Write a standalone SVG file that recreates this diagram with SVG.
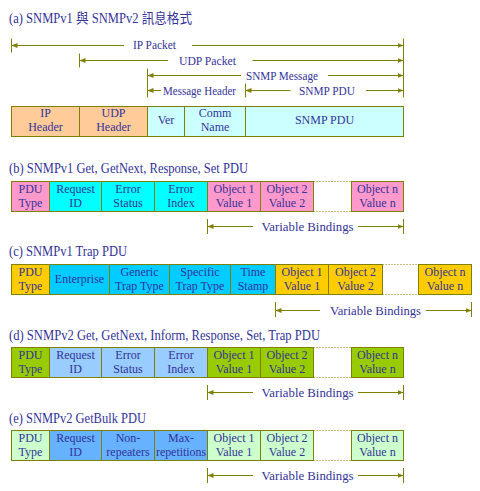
<svg xmlns="http://www.w3.org/2000/svg" width="480" height="491" viewBox="0 0 480 491">
<defs>
<style>
.t{font-family:"Liberation Serif","Noto Sans CJK TC",serif;fill:#333399}
.title{font-size:14px}
.lbl{font-size:12px;text-anchor:middle}
.bx{font-size:12px;text-anchor:middle}
.b{stroke:#808000;stroke-width:1}
.orange{fill:#FFCC99}.lcyan{fill:#CCFFFF}
.pink{fill:#FF99CC}.cyan{fill:#00FFFF}
.gold{fill:#FFCC00}.sky{fill:#00CCFF}
.green{fill:#99CC00}.lblue{fill:#99CCFF}
.lgreen{fill:#CCFFCC}.mblue{fill:#66B2FF}
.ln{stroke:#808000;stroke-width:1;fill:none}
.dot{stroke:#808000;stroke-width:1;stroke-dasharray:1,2;fill:none}
</style>
<marker id="ah" viewBox="0 0 6 6" refX="6" refY="3" markerWidth="6" markerHeight="6" orient="auto-start-reverse" markerUnits="userSpaceOnUse"><path d="M0,0.5 L6,3 L0,5.5 z" fill="#808000"/></marker>
</defs>
<rect width="480" height="491" fill="#ffffff"/>

<!-- titles -->
<text class="t title" x="9" y="22.5" textLength="183" lengthAdjust="spacingAndGlyphs">(a) SNMPv1 與 SNMPv2 訊息格式</text>
<text class="t title" x="9" y="173" textLength="239" lengthAdjust="spacingAndGlyphs">(b) SNMPv1 Get, GetNext, Response, Set PDU</text>
<text class="t title" x="9" y="256" textLength="118" lengthAdjust="spacingAndGlyphs">(c) SNMPv1 Trap PDU</text>
<text class="t title" x="9" y="340" textLength="311" lengthAdjust="spacingAndGlyphs">(d) SNMPv2 Get, GetNext, Inform, Response, Set, Trap PDU</text>
<text class="t title" x="9" y="423" textLength="137" lengthAdjust="spacingAndGlyphs">(e) SNMPv2 GetBulk PDU</text>

<!-- connectors / dimension lines -->
<g id="connectors">
<!-- section a ticks -->
<line class="ln" x1="11.5" y1="38.5" x2="11.5" y2="52.5"/>
<line class="ln" x1="79.5" y1="53.5" x2="79.5" y2="67.5"/>
<line class="ln" x1="147.5" y1="68.5" x2="147.5" y2="97.5"/>
<line class="ln" x1="245.5" y1="83.5" x2="245.5" y2="97.5"/>
<line class="ln" x1="403.5" y1="38.5" x2="403.5" y2="97.5"/>
<!-- IP Packet -->
<line class="ln" x1="11.5" y1="45.5" x2="124" y2="45.5" marker-start="url(#ah)"/>
<line class="ln" x1="192" y1="45.5" x2="403.5" y2="45.5" marker-end="url(#ah)"/>
<!-- UDP Packet -->
<line class="ln" x1="79.5" y1="60.5" x2="168" y2="60.5" marker-start="url(#ah)"/>
<line class="ln" x1="252.5" y1="60.5" x2="403.5" y2="60.5" marker-end="url(#ah)"/>
<!-- SNMP Message -->
<line class="ln" x1="147.5" y1="75.5" x2="241" y2="75.5" marker-start="url(#ah)"/>
<line class="ln" x1="328" y1="75.5" x2="403.5" y2="75.5" marker-end="url(#ah)"/>
<!-- Message Header -->
<line class="ln" x1="147.5" y1="90.5" x2="161" y2="90.5" marker-start="url(#ah)"/>
<!-- SNMP PDU -->
<line class="ln" x1="245.5" y1="90.5" x2="290.5" y2="90.5" marker-start="url(#ah)"/>
<line class="ln" x1="366" y1="90.5" x2="403.5" y2="90.5" marker-end="url(#ah)"/>

<!-- b variable bindings -->
<line class="ln" x1="207.5" y1="219" x2="207.5" y2="234"/>
<line class="ln" x1="403.5" y1="219" x2="403.5" y2="234"/>
<line class="ln" x1="207.5" y1="226.5" x2="253" y2="226.5" marker-start="url(#ah)"/>
<line class="ln" x1="358" y1="226.5" x2="403.5" y2="226.5" marker-end="url(#ah)"/>
<!-- c variable bindings -->
<line class="ln" x1="275.5" y1="302" x2="275.5" y2="317"/>
<line class="ln" x1="471.5" y1="302" x2="471.5" y2="317"/>
<line class="ln" x1="275.5" y1="310.5" x2="320" y2="310.5" marker-start="url(#ah)"/>
<line class="ln" x1="426" y1="310.5" x2="471.5" y2="310.5" marker-end="url(#ah)"/>
<!-- d variable bindings -->
<line class="ln" x1="207.5" y1="385" x2="207.5" y2="400"/>
<line class="ln" x1="403.5" y1="385" x2="403.5" y2="400"/>
<line class="ln" x1="207.5" y1="392.5" x2="253" y2="392.5" marker-start="url(#ah)"/>
<line class="ln" x1="358" y1="392.5" x2="403.5" y2="392.5" marker-end="url(#ah)"/>
<!-- e variable bindings -->
<line class="ln" x1="207.5" y1="468" x2="207.5" y2="483"/>
<line class="ln" x1="403.5" y1="468" x2="403.5" y2="483"/>
<line class="ln" x1="207.5" y1="475.5" x2="253" y2="475.5" marker-start="url(#ah)"/>
<line class="ln" x1="358" y1="475.5" x2="403.5" y2="475.5" marker-end="url(#ah)"/>

<!-- dotted gaps -->
<line class="dot" x1="313.5" y1="181.5" x2="351.5" y2="181.5"/>
<line class="dot" x1="313.5" y1="211.5" x2="351.5" y2="211.5"/>
<line class="dot" x1="382.5" y1="264.5" x2="418.5" y2="264.5"/>
<line class="dot" x1="382.5" y1="294.5" x2="418.5" y2="294.5"/>
<line class="dot" x1="313.5" y1="347.5" x2="351.5" y2="347.5"/>
<line class="dot" x1="313.5" y1="377.5" x2="351.5" y2="377.5"/>
<line class="dot" x1="313.5" y1="430.5" x2="351.5" y2="430.5"/>
<line class="dot" x1="313.5" y1="460.5" x2="351.5" y2="460.5"/>
</g>

<!-- dimension labels -->
<g id="labels">
<text class="t lbl" x="154.5" y="49" textLength="43" lengthAdjust="spacingAndGlyphs">IP Packet</text>
<text class="t lbl" x="207.5" y="64.5" textLength="57" lengthAdjust="spacingAndGlyphs">UDP Packet</text>
<text class="t lbl" x="282" y="79.5" textLength="72" lengthAdjust="spacingAndGlyphs">SNMP Message</text>
<text class="t lbl" x="199.5" y="94.5" textLength="73" lengthAdjust="spacingAndGlyphs">Message Header</text>
<text class="t lbl" x="327" y="94.5" textLength="56" lengthAdjust="spacingAndGlyphs">SNMP PDU</text>
<text class="t lbl" x="307.5" y="230.5" textLength="92" lengthAdjust="spacingAndGlyphs" style="font-size:13px">Variable Bindings</text>
<text class="t lbl" x="375.5" y="314.5" textLength="91" lengthAdjust="spacingAndGlyphs" style="font-size:13px">Variable Bindings</text>
<text class="t lbl" x="307.5" y="396.5" textLength="92" lengthAdjust="spacingAndGlyphs" style="font-size:13px">Variable Bindings</text>
<text class="t lbl" x="307.5" y="479.5" textLength="92" lengthAdjust="spacingAndGlyphs" style="font-size:13px">Variable Bindings</text>
</g>

<!-- section a -->
<g id="a-ip-header"><rect class="b orange" x="11.5" y="106.5" width="68" height="30"/><text class="t bx" x="45.5" y="117">IP</text><text class="t bx" x="45.5" y="131">Header</text></g>
<g id="a-udp-header"><rect class="b orange" x="79.5" y="106.5" width="68" height="30"/><text class="t bx" x="113.5" y="117">UDP</text><text class="t bx" x="113.5" y="131">Header</text></g>
<g id="a-ver"><rect class="b lcyan" x="147.5" y="106.5" width="37" height="30"/><text class="t bx" x="166" y="124">Ver</text></g>
<g id="a-comm-name"><rect class="b lcyan" x="184.5" y="106.5" width="61" height="30"/><text class="t bx" x="215" y="117">Comm</text><text class="t bx" x="215" y="131">Name</text></g>
<g id="a-snmp-pdu"><rect class="b lcyan" x="245.5" y="106.5" width="158" height="30"/><text class="t bx" x="324.5" y="124">SNMP PDU</text></g>

<!-- section b -->
<g id="b-pdu-type"><rect class="b pink" x="11.5" y="181.5" width="38" height="30"/><text class="t bx" x="30.5" y="192.5">PDU</text><text class="t bx" x="30.5" y="206.5">Type</text></g>
<g id="b-request-id"><rect class="b cyan" x="49.5" y="181.5" width="52" height="30"/><text class="t bx" x="75.5" y="192.5">Request</text><text class="t bx" x="75.5" y="206.5">ID</text></g>
<g id="b-error-status"><rect class="b cyan" x="101.5" y="181.5" width="53" height="30"/><text class="t bx" x="128" y="192.5">Error</text><text class="t bx" x="128" y="206.5">Status</text></g>
<g id="b-error-index"><rect class="b cyan" x="154.5" y="181.5" width="53" height="30"/><text class="t bx" x="181" y="192.5">Error</text><text class="t bx" x="181" y="206.5">Index</text></g>
<g id="b-obj1"><rect class="b pink" x="207.5" y="181.5" width="53" height="30"/><text class="t bx" x="234" y="192.5">Object 1</text><text class="t bx" x="234" y="206.5">Value 1</text></g>
<g id="b-obj2"><rect class="b pink" x="260.5" y="181.5" width="53" height="30"/><text class="t bx" x="287" y="192.5">Object 2</text><text class="t bx" x="287" y="206.5">Value 2</text></g>
<g id="b-objn"><rect class="b pink" x="351.5" y="181.5" width="52" height="30"/><text class="t bx" x="377.5" y="192.5">Object n</text><text class="t bx" x="377.5" y="206.5">Value n</text></g>

<!-- section c -->
<g id="c-pdu-type"><rect class="b gold" x="11.5" y="264.5" width="38" height="30"/><text class="t bx" x="30.5" y="275.5">PDU</text><text class="t bx" x="30.5" y="289.5">Type</text></g>
<g id="c-enterprise"><rect class="b sky" x="49.5" y="264.5" width="60" height="30"/><text class="t bx" x="79.5" y="283">Enterprise</text></g>
<g id="c-generic"><rect class="b sky" x="109.5" y="264.5" width="60" height="30"/><text class="t bx" x="139.5" y="275.5">Generic</text><text class="t bx" x="139.5" y="289.5">Trap Type</text></g>
<g id="c-specific"><rect class="b sky" x="169.5" y="264.5" width="61" height="30"/><text class="t bx" x="200" y="275.5">Specific</text><text class="t bx" x="200" y="289.5">Trap Type</text></g>
<g id="c-time-stamp"><rect class="b sky" x="230.5" y="264.5" width="45" height="30"/><text class="t bx" x="253" y="275.5">Time</text><text class="t bx" x="253" y="289.5">Stamp</text></g>
<g id="c-obj1"><rect class="b gold" x="275.5" y="264.5" width="53" height="30"/><text class="t bx" x="302" y="275.5">Object 1</text><text class="t bx" x="302" y="289.5">Value 1</text></g>
<g id="c-obj2"><rect class="b gold" x="328.5" y="264.5" width="54" height="30"/><text class="t bx" x="355.5" y="275.5">Object 2</text><text class="t bx" x="355.5" y="289.5">Value 2</text></g>
<g id="c-objn"><rect class="b gold" x="418.5" y="264.5" width="53" height="30"/><text class="t bx" x="445" y="275.5">Object n</text><text class="t bx" x="445" y="289.5">Value n</text></g>

<!-- section d -->
<g id="d-pdu-type"><rect class="b green" x="11.5" y="347.5" width="38" height="30"/><text class="t bx" x="30.5" y="358.5">PDU</text><text class="t bx" x="30.5" y="372.5">Type</text></g>
<g id="d-request-id"><rect class="b lblue" x="49.5" y="347.5" width="52" height="30"/><text class="t bx" x="75.5" y="358.5">Request</text><text class="t bx" x="75.5" y="372.5">ID</text></g>
<g id="d-error-status"><rect class="b lblue" x="101.5" y="347.5" width="53" height="30"/><text class="t bx" x="128" y="358.5">Error</text><text class="t bx" x="128" y="372.5">Status</text></g>
<g id="d-error-index"><rect class="b lblue" x="154.5" y="347.5" width="53" height="30"/><text class="t bx" x="181" y="358.5">Error</text><text class="t bx" x="181" y="372.5">Index</text></g>
<g id="d-obj1"><rect class="b green" x="207.5" y="347.5" width="53" height="30"/><text class="t bx" x="234" y="358.5">Object 1</text><text class="t bx" x="234" y="372.5">Value 1</text></g>
<g id="d-obj2"><rect class="b green" x="260.5" y="347.5" width="53" height="30"/><text class="t bx" x="287" y="358.5">Object 2</text><text class="t bx" x="287" y="372.5">Value 2</text></g>
<g id="d-objn"><rect class="b green" x="351.5" y="347.5" width="52" height="30"/><text class="t bx" x="377.5" y="358.5">Object n</text><text class="t bx" x="377.5" y="372.5">Value n</text></g>

<!-- section e -->
<g id="e-pdu-type"><rect class="b lgreen" x="11.5" y="430.5" width="38" height="30"/><text class="t bx" x="30.5" y="441.5">PDU</text><text class="t bx" x="30.5" y="455.5">Type</text></g>
<g id="e-request-id"><rect class="b mblue" x="49.5" y="430.5" width="52" height="30"/><text class="t bx" x="75.5" y="441.5">Request</text><text class="t bx" x="75.5" y="455.5">ID</text></g>
<g id="e-non-repeaters"><rect class="b mblue" x="101.5" y="430.5" width="53" height="30"/><text class="t bx" x="128" y="441.5">Non-</text><text class="t bx" x="128" y="455.5">repeaters</text></g>
<g id="e-max-repetitions"><rect class="b mblue" x="154.5" y="430.5" width="53" height="30"/><text class="t bx" x="181" y="441.5">Max-</text><text class="t bx" x="181" y="455.5" textLength="50" lengthAdjust="spacingAndGlyphs">repetitions</text></g>
<g id="e-obj1"><rect class="b lgreen" x="207.5" y="430.5" width="53" height="30"/><text class="t bx" x="234" y="441.5">Object 1</text><text class="t bx" x="234" y="455.5">Value 1</text></g>
<g id="e-obj2"><rect class="b lgreen" x="260.5" y="430.5" width="53" height="30"/><text class="t bx" x="287" y="441.5">Object 2</text><text class="t bx" x="287" y="455.5">Value 2</text></g>
<g id="e-objn"><rect class="b lgreen" x="351.5" y="430.5" width="52" height="30"/><text class="t bx" x="377.5" y="441.5">Object n</text><text class="t bx" x="377.5" y="455.5">Value n</text></g>
</svg>
